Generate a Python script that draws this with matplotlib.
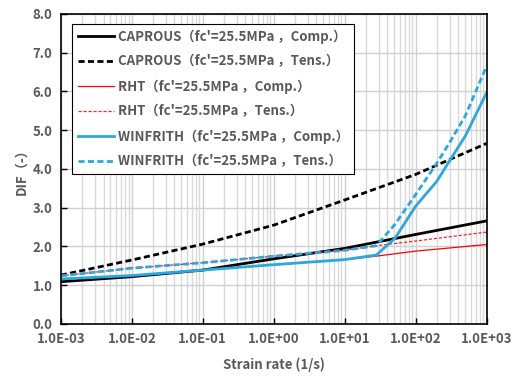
import numpy as np
import matplotlib.pyplot as plt
from matplotlib.ticker import FixedLocator, FuncFormatter, LogLocator

plt.rcParams['font.family'] = ['Noto Sans CJK JP', 'DejaVu Sans']
plt.rcParams['font.weight'] = 'bold'

# strain rate (1/s)
x_dec = [1e-3, 1e-2, 1e-1, 1e0, 1e1, 1e2, 1e3]
caprous_comp = [1.09, 1.22, 1.39, 1.68, 1.95, 2.31, 2.66]
caprous_tens = [1.26, 1.65, 2.06, 2.55, 3.20, 3.86, 4.66]

x_rht = [1e-3, 1e-2, 1e-1, 1e0, 1e1, 28, 100, 1000]
rht_comp = [1.16, 1.25, 1.39, 1.53, 1.66, 1.75, 1.88, 2.05]
rht_tens = [1.24, 1.44, 1.58, 1.75, 1.90, 2.02, 2.14, 2.37]

x_win = [1e-3, 1e-2, 1e-1, 1e0, 1e1, 28, 51, 100, 200, 300, 500, 1000]
win_comp = [1.16, 1.25, 1.39, 1.53, 1.66, 1.78, 2.21, 3.04, 3.69, 4.21, 4.85, 5.97]
win_tens = [1.24, 1.44, 1.58, 1.75, 1.90, 2.02, 2.57, 3.34, 4.16, 4.68, 5.37, 6.66]

lab = "（fc'=25.5MPa ，{}）"
blue = '#2BA8E0'
grey = '#595959'

fig = plt.figure(figsize=(5.15, 3.78), dpi=100)
ax = fig.add_axes([0.118, 0.143, 0.827, 0.820])

ax.plot(x_dec, caprous_comp, color='black', lw=2, label='CAPROUS' + lab.format('Comp.'))
ax.plot(x_dec, caprous_tens, color='black', lw=2, ls=(0, (2.2, 1.2)), label='CAPROUS' + lab.format('Tens.'))
ax.plot(x_rht, rht_comp, color='#FF0000', lw=0.9, label='RHT' + lab.format('Comp.'))
ax.plot(x_rht, rht_tens, color='#FF2020', lw=0.9, ls=(0, (2.5, 1.5)), label='RHT' + lab.format('Tens.'))
ax.plot(x_win, win_comp, color=blue, lw=2, label='WINFRITH' + lab.format('Comp.'))
ax.plot(x_win, win_tens, color=blue, lw=2, ls=(0, (2.2, 1.2)), label='WINFRITH' + lab.format('Tens.'))

ax.set_xscale('log')
ax.set_xlim(1e-3, 1e3)
ax.set_ylim(0, 8)
ax.set_yticks(np.arange(0, 8.1, 1.0))
ax.yaxis.set_major_formatter(FuncFormatter(lambda v, p: '%.1f' % v))
ax.xaxis.set_major_locator(FixedLocator(x_dec))
ax.xaxis.set_minor_locator(LogLocator(base=10, subs=np.arange(2, 10), numticks=20))
ax.xaxis.set_major_formatter(FuncFormatter(lambda v, p: '%.1fE%+03d' % (1.0, round(np.log10(v)))))
ax.xaxis.set_minor_formatter(FuncFormatter(lambda v, p: ''))

ax.grid(True, which='major', color='#d0d0d0', lw=1)
ax.grid(True, which='minor', axis='x', color='#d9d9d9', lw=1)
ax.set_axisbelow(True)

ax.tick_params(axis='both', which='major', direction='in', length=4, width=1,
               labelsize=9.5, labelcolor=grey, color='black', pad=6)
ax.tick_params(axis='x', which='minor', length=0)
for s in ax.spines.values():
    s.set_linewidth(1.2)

ax.set_xlabel('Strain rate (1/s)', fontsize=9.5, color=grey, fontweight='bold', labelpad=8)
ax.set_ylabel('DIF（-）', fontsize=9.5, color=grey, fontweight='bold', labelpad=3)

leg = ax.legend(loc='upper left', bbox_to_anchor=(0.012, 0.99), fontsize=9.5,
                frameon=True, fancybox=False, framealpha=1, edgecolor='black',
                handlelength=2.7, labelspacing=0.82, borderpad=0.42, handletextpad=0.3)
leg.get_frame().set_linewidth(0.8)
for t in leg.get_texts():
    t.set_color(grey)

fig.savefig('out.png', dpi=100)
